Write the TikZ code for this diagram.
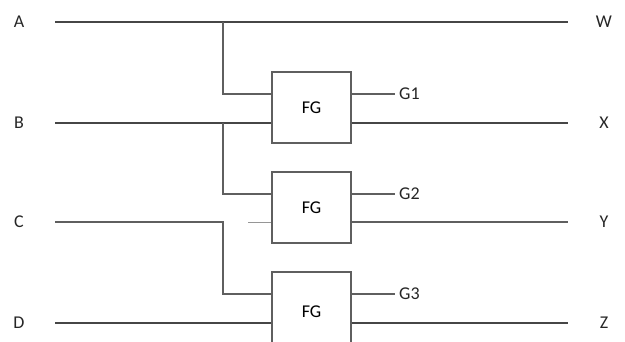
\documentclass[tikz,border=0pt]{standalone}
\usepackage{fontspec}
\setmainfont{Carlito}
\usepackage{tikz}
\usetikzlibrary{positioning,calc}
\definecolor{wiregray}{RGB}{70,70,70}
\definecolor{boxgray}{RGB}{95,95,95}
\definecolor{stubgray}{RGB}{150,150,150}

\tikzset{
    wire/.style={draw=wiregray, line width=1.8pt},
    thinwire/.style={draw=boxgray, line width=1.2pt},
    fgbox/.style={draw=boxgray, line width=1.3pt, minimum width=79pt, minimum height=71pt, inner sep=0pt, font=\fontsize{18}{21}\selectfont},
    sig/.style={font=\fontsize{18}{21}\selectfont, text=black!85, inner sep=1pt}
}

\begin{document}
\begin{tikzpicture}[x=1pt, y=-1pt]
    \useasboundingbox (0,0) rectangle (625,342);

    % Input and output labels
    \foreach \n/\y in {A/22,B/123,C/222,D/323} {
        \node[sig] (in\n) at (19,\y) {\n};
        \coordinate (s\n) at (55,\y);
    }
    \foreach \n/\m/\y in {A/W/22,B/X/123,C/Y/222,D/Z/323} {
        \node[sig] (out\m) at (604,\y) {\m};
        \coordinate (e\n) at (568,\y);
    }

    % Feynman gates
    \node[fgbox] (fg1) at (311.5,107.5) {FG};
    \node[fgbox] (fg2) at (311.5,207.5) {FG};
    \node[fgbox, minimum height=80pt] (fg3) at (311.5,312) {FG};

    % Garbage outputs
    \node[sig, anchor=west] (g1) at (398,94) {G1};
    \node[sig, anchor=west] (g2) at (398,194) {G2};
    \node[sig, anchor=west] (g3) at (398,294) {G3};

    % Branch points
    \coordinate (tA) at (223,22);
    \coordinate (tB) at (223,123);
    \coordinate (tC) at (223,222);
    \coordinate (cstub) at (248,222);

    % Line A
    \draw[wire] (sA) -- (eA);
    \draw[thinwire] (tA) |- (fg1.west |- g1);

    % Line B
    \draw[wire] (sB) -- (fg1.west |- sB);
    \draw[wire] (fg1.east |- sB) -- (eB);
    \draw[thinwire] (tB) |- (fg2.west |- g2);

    % Line C
    \draw[thinwire] (sC) -- (tC) |- (fg3.west |- g3);
    \draw[draw=stubgray, line width=0.9pt] (cstub) -- (fg2.west |- cstub);
    \draw[thinwire] (fg2.east |- sC) -- (eC);

    % Line D
    \draw[wire] (sD) -- (fg3.west |- sD);
    \draw[wire] (fg3.east |- sD) -- (eD);

    % Garbage wires
    \foreach \i in {1,2,3} {
        \draw[thinwire] (fg\i.east |- g\i) -- ([xshift=-3pt]g\i.west);
    }
\end{tikzpicture}
\end{document}
